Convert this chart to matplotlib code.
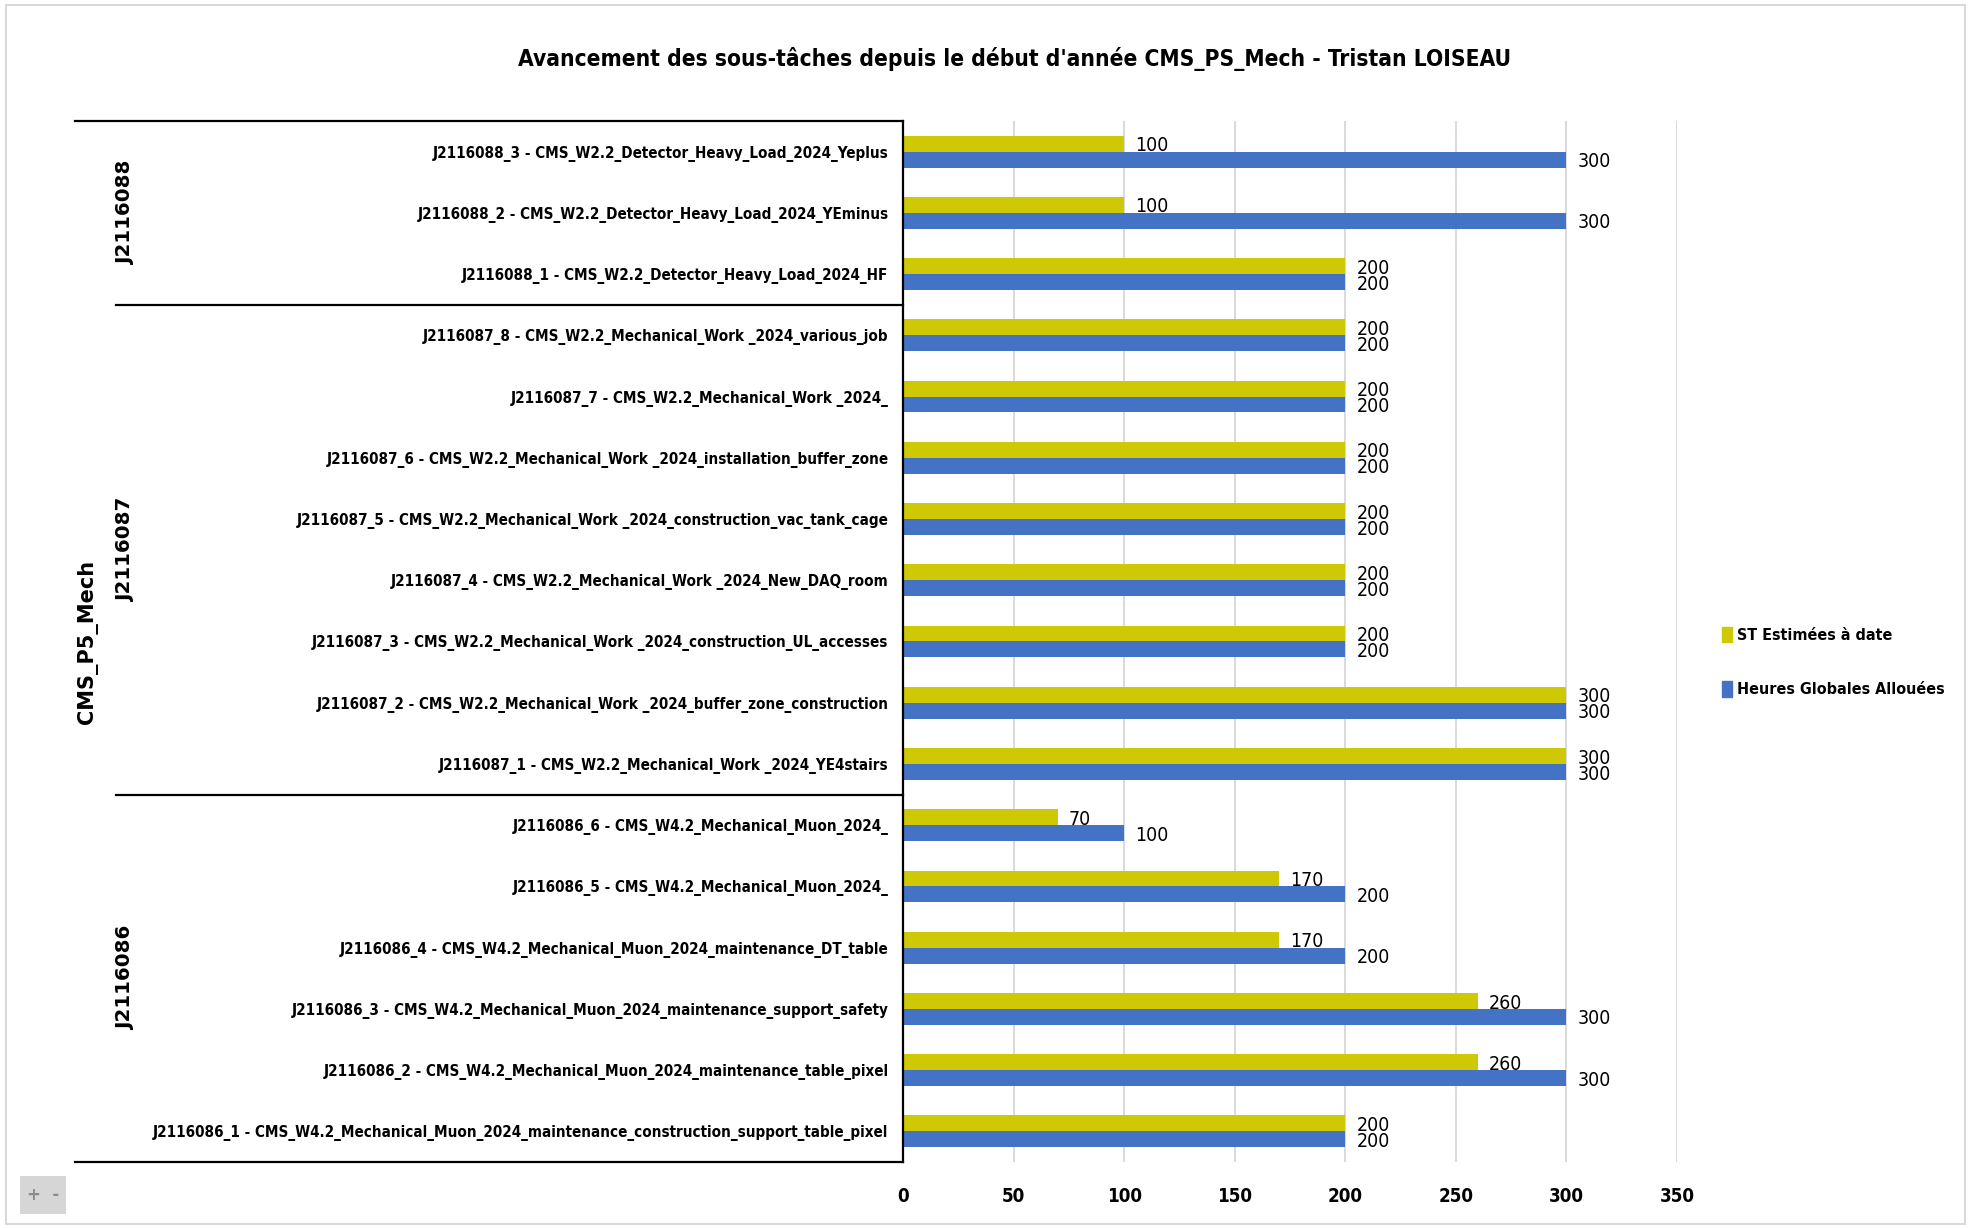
import os
import matplotlib
matplotlib.use("Agg")
import matplotlib.pyplot as plt
import numpy as np
from matplotlib import font_manager
from matplotlib.font_manager import FontProperties
from matplotlib.patches import Patch, Rectangle
from matplotlib.transforms import blended_transform_factory

# --- Data ---
tasks = [
    "J2116088_3 - CMS_W2.2_Detector_Heavy_Load_2024_Yeplus",
    "J2116088_2 - CMS_W2.2_Detector_Heavy_Load_2024_YEminus",
    "J2116088_1 - CMS_W2.2_Detector_Heavy_Load_2024_HF",
    "J2116087_8 - CMS_W2.2_Mechanical_Work _2024_various_job",
    "J2116087_7 - CMS_W2.2_Mechanical_Work _2024_",
    "J2116087_6 - CMS_W2.2_Mechanical_Work _2024_installation_buffer_zone",
    "J2116087_5 - CMS_W2.2_Mechanical_Work _2024_construction_vac_tank_cage",
    "J2116087_4 - CMS_W2.2_Mechanical_Work _2024_New_DAQ_room",
    "J2116087_3 - CMS_W2.2_Mechanical_Work _2024_construction_UL_accesses",
    "J2116087_2 - CMS_W2.2_Mechanical_Work _2024_buffer_zone_construction",
    "J2116087_1 - CMS_W2.2_Mechanical_Work _2024_YE4stairs",
    "J2116086_6 - CMS_W4.2_Mechanical_Muon_2024_",
    "J2116086_5 - CMS_W4.2_Mechanical_Muon_2024_",
    "J2116086_4 - CMS_W4.2_Mechanical_Muon_2024_maintenance_DT_table",
    "J2116086_3 - CMS_W4.2_Mechanical_Muon_2024_maintenance_support_safety",
    "J2116086_2 - CMS_W4.2_Mechanical_Muon_2024_maintenance_table_pixel",
    "J2116086_1 - CMS_W4.2_Mechanical_Muon_2024_maintenance_construction_support_table_pixel",
]
st_estimees = [100, 100, 200, 200, 200, 200, 200, 200, 200, 300, 300, 70, 170, 170, 260, 260, 200]
heures_allouees = [300, 300, 200, 200, 200, 200, 200, 200, 200, 300, 300, 100, 200, 200, 300, 300, 200]

groups = ["J2116088", "J2116087", "J2116086"]
group_sizes = [3, 8, 6]
top_group = "CMS_P5_Mech"

title = "Avancement des sous-tâches depuis le début d'année CMS_PS_Mech - Tristan LOISEAU"
series_names = ["ST Estimées à date", "Heures Globales Allouées"]
x_ticks = [0, 50, 100, 150, 200, 250, 300, 350]


# --- find a narrow face (the original uses a squeezed Calibri) ---
def find_font(names, bold):
    files = {os.path.basename(f.fname): f.fname for f in font_manager.fontManager.ttflist}
    for n in names:
        if n in files:
            return FontProperties(fname=files[n])
    for f in font_manager.fontManager.ttflist:
        st = str(f.stretch)
        cond = ('ondensed' in st or 'narrow' in st) or (st.isdigit() and int(st) < 500)
        if cond and f.name in ('Noto Sans', 'DejaVu Sans', 'Liberation Sans', 'Roboto', 'Open Sans', 'Lato', 'Inter'):
            w = f.weight if isinstance(f.weight, int) else (700 if 'bold' in str(f.weight) else 400)
            if (w >= 600) == bold and 'xtra' not in st and 'emi' not in st and 'ltra' not in st:
                return FontProperties(fname=f.fname)
    return FontProperties(family='Liberation Sans', weight='bold' if bold else 'normal')


fp_reg = find_font(['LiberationSansNarrow-Regular.ttf', 'NotoSans-Condensed.ttf',
                    'NotoSans-CondensedRegular.ttf', 'DejaVuSansCondensed.ttf',
                    'RobotoCondensed-Regular.ttf', 'OpenSans-CondensedRegular.ttf'], False)
fp_bold = find_font(['LiberationSansNarrow-Bold.ttf', 'NotoSans-CondensedBold.ttf',
                     'DejaVuSansCondensed-Bold.ttf', 'RobotoCondensed-Bold.ttf',
                     'OpenSans-CondensedBold.ttf'], True)
fp_wide = FontProperties(family='DejaVu Sans', weight='bold')

W, H = 1971, 1228
fig = plt.figure(figsize=(W / 100, H / 100), dpi=100)
fig.patch.set_facecolor('white')
renderer = fig.canvas.get_renderer()


def fit(fp, text, target_px, maxsize=40):
    # font size that gives the text the width it has in the original
    p = fp.copy()
    p.set_size(10)
    t = fig.text(0, 0, text, fontproperties=p)
    w = t.get_window_extent(renderer).width
    t.remove()
    out = fp.copy()
    out.set_size(min(maxsize, 10 * target_px / w))
    return out


def sized(fp, size):
    out = fp.copy()
    out.set_size(size)
    return out


fp_cat = fit(fp_bold, tasks[0], 455, 15)
fp_title = fit(fp_bold, title, 990, 25)
fp_leg = fit(fp_bold, series_names[1], 206, 16)
fp_val = sized(fp_reg, 14)
fp_tick = sized(fp_bold, 13.5)
fp_grp = fit(fp_wide, groups[0], 105, 15)
fp_top = fit(fp_wide, top_group, 170, 15)

c_st = '#CFC905'
c_h = '#4472C4'
grid_c = '#D9D9D9'

# plot area in pixels
left, right, top, bottom = 903, 1677, 121, 1162
ax = fig.add_axes([left / W, 1 - bottom / H, (right - left) / W, (bottom - top) / H])

y = np.arange(len(tasks))
bh = 0.26
bars_st = ax.barh(y - bh / 2, st_estimees, height=bh, color=c_st, zorder=3)
bars_h = ax.barh(y + bh / 2, heures_allouees, height=bh, color=c_h, zorder=3)

ax.set_xlim(0, 350)
ax.set_ylim(len(tasks) - 0.5, -0.5)

ax.set_xticks(x_ticks)
ax.set_xticklabels([str(v) for v in x_ticks])
for lbl in ax.get_xticklabels():
    lbl.set_fontproperties(fp_tick)
ax.tick_params(axis='x', length=0, pad=18)

ax.set_yticks(y)
ax.set_yticklabels(tasks)
for lbl in ax.get_yticklabels():
    lbl.set_fontproperties(fp_cat)
ax.tick_params(axis='y', length=0, pad=10.5)

for s in ['top', 'right', 'bottom']:
    ax.spines[s].set_visible(False)
ax.spines['left'].set_linewidth(1.6)
ax.spines['left'].set_zorder(4)

ax.grid(axis='x', color=grid_c, linewidth=1.4, zorder=0)
ax.set_axisbelow(True)

# value labels
for bars in (bars_st, bars_h):
    for b in bars:
        w = b.get_width()
        ax.annotate(f'{w:g}', (w, b.get_y() + b.get_height() / 2),
                    xytext=(8, -1.5), textcoords='offset points',
                    ha='left', va='center', fontproperties=fp_val,
                    color='black', zorder=5)

# multi-level category axis lines
tr = blended_transform_factory(ax.transAxes, ax.transData)
x_outer = (75 - left) / (right - left)
x_inner = (116 - left) / (right - left)
ax.plot([x_outer, 0], [-0.5, -0.5], color='black', lw=1.6, transform=tr, clip_on=False)
ax.plot([x_outer, 0], [len(tasks) - 0.5] * 2, color='black', lw=1.6, transform=tr, clip_on=False)
edges = np.cumsum(group_sizes)
for e in edges[:-1]:
    ax.plot([x_inner, 0], [e - 0.5] * 2, color='black', lw=1.6, transform=tr, clip_on=False)

x_grp = (126 - left) / (right - left)
x_top = (87 - left) / (right - left)
starts = np.concatenate([[0], edges[:-1]])
for g, s0, n in zip(groups, starts, group_sizes):
    ax.text(x_grp, s0 + (n - 1) / 2, g, rotation=90, ha='center', va='center',
            fontproperties=fp_grp, transform=tr)
ax.text(x_top, (len(tasks) - 1) / 2, top_group, rotation=90, ha='center', va='center',
        fontproperties=fp_top, transform=tr)

# title
fig.text(1015 / W, 1 - 59 / H, title, ha='center', va='center', fontproperties=fp_title)

# legend
handles = [Patch(color=c_st), Patch(color=c_h)]
fig.legend(handles, series_names, loc='center left',
           bbox_to_anchor=(1708 / W, 1 - 662 / H), frameon=False, prop=fp_leg,
           handlelength=0.6, handleheight=1.1, handletextpad=0.3, labelspacing=2.4)

# outer chart frame and zoom button
fig.add_artist(Rectangle((6 / W, 4 / H), (W - 12) / W, (H - 9) / H, transform=fig.transFigure,
                         fill=False, edgecolor='#D9D9D9', lw=1.5))
fig.add_artist(Rectangle((20 / W, 1 - 1214 / H), 46 / W, 38 / H, transform=fig.transFigure,
                         facecolor='#D6D6D6', edgecolor='none'))
fig.text(43 / W, 1 - 1195 / H, '+  -', ha='center', va='center', fontsize=12,
         color='#8C8C8C', fontweight='bold')

fig.savefig('out.png', dpi=100)
